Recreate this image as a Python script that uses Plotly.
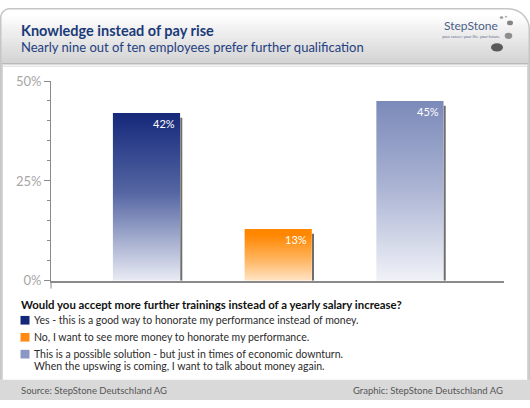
import plotly.graph_objects as go
import math

# ---- data ----
categories = ["Yes", "No", "Possible"]
values = [42, 13, 45]
labels = ["42%", "13%", "45%"]
top_colors = ["#16297b", "#ff8700", "#7c8aba"]
bottom_colors = ["#f7f8fc", "#fff6ec", "#f7f8fb"]
mid_colors = ["#5566a3", "#ffb45e", "#aab3d3"]
legend_texts = [
    "Yes - this is a good way to honorate my performance instead of money.",
    "No, I want to see more money to honorate my performance.",
    "This is a possible solution - but just in times of economic downturn.",
]
legend_extra = "When the upswing is coming, I want to talk about money again."
legend_colors = ["#14287a", "#ff8a14", "#8a96c4"]
y_ticks = [0, 25, 50]
y_tick_text = ["0%", "25%", "50%"]

W, H = 530, 408
FONT = "Lato"

def X(px):
    return px / W

def Y(py):
    return 1 - py / H

bar_w = 0.51
fig = go.Figure()
annotations = []

for i, (v, lab) in enumerate(zip(values, labels)):
    x0, x1 = i - bar_w / 2, i + bar_w / 2
    fig.add_trace(go.Scatter(
        x=[x0, x0, x1, x1, x0], y=[0, v, v, 0, 0],
        mode="lines", fill="toself", line=dict(width=0),
        fillgradient=dict(type="vertical", start=0, stop=v,
                          colorscale=[[0, bottom_colors[i]], [0.55, mid_colors[i]], [1, top_colors[i]]]),
        hoverinfo="skip", showlegend=False, name=categories[i]))
    fig.add_trace(go.Scatter(
        x=[x1 + 0.009, x1 + 0.009], y=[0, v - 1.2], mode="lines",
        line=dict(color="#6e6e6e", width=2), hoverinfo="skip", showlegend=False))
    annotations.append(dict(x=x1, y=v, xref="x", yref="y", text=lab, showarrow=False,
                            xanchor="right", yanchor="top", xshift=-3, yshift=-2,
                            font=dict(family=FONT, size=11, color="white")))

shapes = []
shapes.append(dict(type="rect", xref="paper", yref="paper", x0=0, x1=1, y0=0, y1=1,
                   fillcolor="white", line=dict(width=0), layer="below"))
hy0, hy1 = 6, 57
n = 26
c0, c1 = (255, 255, 255), (212, 212, 212)
for k in range(n):
    t = k / (n - 1)
    c = tuple(int(c0[j] + (c1[j] - c0[j]) * t) for j in range(3))
    ya = hy0 + (hy1 - hy0) * k / n
    yb = hy0 + (hy1 - hy0) * (k + 1) / n + 0.5
    shapes.append(dict(type="rect", xref="paper", yref="paper", x0=0, x1=1,
                       y0=Y(yb), y1=Y(ya), fillcolor="rgb(%d,%d,%d)" % c,
                       line=dict(width=0), layer="below"))
shapes.append(dict(type="line", xref="paper", yref="paper", x0=0, x1=1, y0=Y(58), y1=Y(58),
                   line=dict(color="#b9b9b9", width=1.5), layer="below"))
shapes.append(dict(type="line", xref="paper", yref="paper", x0=0, x1=1, y0=Y(60.5), y1=Y(60.5),
                   line=dict(color="#e6e6e6", width=1.5), layer="below"))
shapes.append(dict(type="rect", xref="paper", yref="paper", x0=0, x1=1, y0=0, y1=Y(387),
                   fillcolor="#d9d9d9", line=dict(width=0), layer="below"))
shapes.append(dict(type="rect", xref="paper", yref="paper", x0=0, x1=X(3), y0=Y(387), y1=Y(58),
                   fillcolor="#d6d6d6", line=dict(width=0), layer="below"))
shapes.append(dict(type="rect", xref="paper", yref="paper", x0=X(527), x1=1, y0=Y(387), y1=Y(58),
                   fillcolor="#d6d6d6", line=dict(width=0), layer="below"))

def corner_mask(r, side):
    steps = 12
    if side == "left":
        path = "M %f,%f L %f,%f " % (X(0), Y(0), X(r), Y(0))
        for s in range(steps + 1):
            a = math.pi * 1.5 - (math.pi / 2) * s / steps
            path += "L %f,%f " % (X(r + r * math.cos(a)), Y(r + r * math.sin(a)))
        path += "L %f,%f Z" % (X(0), Y(0))
    else:
        path = "M %f,%f L %f,%f " % (X(W), Y(0), X(W - r), Y(0))
        for s in range(steps + 1):
            a = math.pi * 1.5 + (math.pi / 2) * s / steps
            path += "L %f,%f " % (X(W - r + r * math.cos(a)), Y(r + r * math.sin(a)))
        path += "L %f,%f Z" % (X(W), Y(0))
    return path

shapes.append(dict(type="path", xref="paper", yref="paper", path=corner_mask(10, "left"),
                   fillcolor="white", line=dict(width=0), layer="below"))
shapes.append(dict(type="path", xref="paper", yref="paper", path=corner_mask(22, "right"),
                   fillcolor="white", line=dict(width=0), layer="below"))

def border_path(rl, rr):
    p = "M %f,%f " % (X(0.75), Y(387))
    p += "L %f,%f " % (X(0.75), Y(rl))
    steps = 12
    for s in range(steps + 1):
        a = math.pi - (math.pi / 2) * s / steps
        p += "L %f,%f " % (X(rl + (rl - 0.75) * math.cos(a)), Y(rl - (rl - 0.75) * math.sin(a)))
    p += "L %f,%f " % (X(W - rr), Y(0.75))
    for s in range(steps + 1):
        a = math.pi / 2 - (math.pi / 2) * s / steps
        p += "L %f,%f " % (X(W - rr + (rr - 0.75) * math.cos(a)), Y(rr - (rr - 0.75) * math.sin(a)))
    p += "L %f,%f" % (X(W - 0.75), Y(387))
    return p

shapes.append(dict(type="path", xref="paper", yref="paper", path=border_path(10, 22),
                   line=dict(color="#c6c6c6", width=1.5), layer="below"))

shapes.append(dict(type="line", xref="paper", yref="paper", x0=X(51), x1=X(51), y0=Y(292), y1=Y(284),
                   line=dict(color="#8a8a8a", width=1)))

stones = [(501.5, 10, 1.8, 1.5, "#a0a0a0"), (510, 15.5, 3.0, 2.4, "#858585"),
          (508.5, 29, 3.8, 3.2, "#8e8e8e"), (497, 41, 6.0, 4.2, "#5a5a5a"),
          (506, 9, 1.2, 1.0, "#b0b0b0")]
for sx, sy, rx, ry, col in stones:
    shapes.append(dict(type="circle", xref="paper", yref="paper",
                       x0=X(sx - rx), x1=X(sx + rx), y0=Y(sy + ry), y1=Y(sy - ry),
                       fillcolor=col, line=dict(width=0)))

sq_y = [325, 342.7, 360.3]
for yc, col in zip(sq_y, legend_colors):
    shapes.append(dict(type="rect", xref="paper", yref="paper",
                       x0=X(20.5), x1=X(29.5), y0=Y(yc + 4.5), y1=Y(yc - 4.5),
                       fillcolor=col, line=dict(width=0)))

annotations.append(dict(x=X(19), y=Y(23.5), xref="paper", yref="paper",
                        text="<b>Knowledge instead of pay rise</b>", showarrow=False,
                        xanchor="left", yanchor="middle",
                        font=dict(family=FONT, size=14.5, color="#1b3a78")))
annotations.append(dict(x=X(19), y=Y(41), xref="paper", yref="paper",
                        text="Nearly nine out of ten employees prefer further qualification", showarrow=False,
                        xanchor="left", yanchor="middle",
                        font=dict(family=FONT, size=13, color="#1f4080")))
annotations.append(dict(x=X(471), y=Y(18), xref="paper", yref="paper",
                        text="StepStone", showarrow=False, xanchor="center", yanchor="middle",
                        font=dict(family=FONT, size=12, color="#4c5f86")))
annotations.append(dict(x=X(471), y=Y(29.5), xref="paper", yref="paper",
                        text="your career. your life. your future.", showarrow=False,
                        xanchor="center", yanchor="middle",
                        font=dict(family=FONT, size=4, color="#5a6a8a")))
annotations.append(dict(x=X(19), y=Y(308.5), xref="paper", yref="paper",
                        text="<b>Would you accept more further trainings instead of a yearly salary increase?</b>",
                        showarrow=False, xanchor="left", yanchor="middle",
                        font=dict(family=FONT, size=11.4, color="#111111")))
for txt, yc in zip(legend_texts, sq_y):
    annotations.append(dict(x=X(32), y=Y(yc), xref="paper", yref="paper",
                            text=txt, showarrow=False, xanchor="left", yanchor="middle",
                            font=dict(family=FONT, size=10.5, color="#2b2b2b")))
annotations.append(dict(x=X(32), y=Y(372.5), xref="paper", yref="paper",
                        text=legend_extra, showarrow=False, xanchor="left", yanchor="middle",
                        font=dict(family=FONT, size=10.5, color="#2b2b2b")))
annotations.append(dict(x=X(19), y=Y(398.5), xref="paper", yref="paper",
                        text="Source: StepStone Deutschland AG", showarrow=False,
                        xanchor="left", yanchor="middle",
                        font=dict(family=FONT, size=9.5, color="#555555")))
annotations.append(dict(x=X(505), y=Y(398.5), xref="paper", yref="paper",
                        text="Graphic: StepStone Deutschland AG", showarrow=False,
                        xanchor="right", yanchor="middle",
                        font=dict(family=FONT, size=9.5, color="#555555")))

fig.update_layout(
    width=W, height=H, margin=dict(l=0, r=0, t=0, b=0),
    paper_bgcolor="white", plot_bgcolor="rgba(0,0,0,0)",
    shapes=shapes, annotations=annotations, showlegend=False,
    xaxis=dict(domain=[X(51), X(504)], range=[-0.725, 2.714], showgrid=False, zeroline=False,
               showticklabels=False, ticks="", showline=True, linecolor="#8a8a8a", linewidth=1.5,
               fixedrange=True),
    yaxis=dict(domain=[Y(284), Y(76)], range=[0, 50], showgrid=False, zeroline=False,
               tickvals=y_ticks, ticktext=y_tick_text, ticks="outside", ticklen=6,
               tickcolor="#8a8a8a", tickwidth=1, showline=True, linecolor="#8a8a8a", linewidth=1,
               tickfont=dict(family=FONT, size=13, color="#a6a6a6"),
               minor=dict(dtick=5, ticks="outside", ticklen=3, tickcolor="#8a8a8a", tickwidth=1),
               fixedrange=True),
)

fig.write_html("out.html")
